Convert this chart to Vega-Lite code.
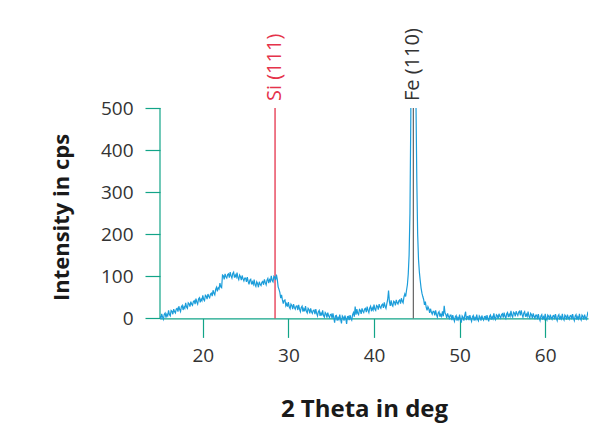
{
  "$schema": "https://vega.github.io/schema/vega-lite/v6.json",
  "width": 428,
  "height": 218,
  "autosize": {"type": "none"},
  "padding": {"left": 160, "top": 108, "right": 23, "bottom": 99},
  "background": "white",
  "config": {
    "view": {"stroke": null},
    "axis": {
      "grid": false,
      "domainColor": "#12a488",
      "tickColor": "#12a488",
      "domainWidth": 1.2,
      "tickWidth": 1.2,
      "labelFont": "Open Sans",
      "labelColor": "#333333",
      "labelFontSize": 19,
      "titleFont": "Open Sans",
      "titleFontWeight": "bold",
      "titleColor": "#1a1a1a"
    }
  },
  "datasets": {
    "spectrum": [
      {"t":15.0,"i":6},{"t":15.1,"i":-2},{"t":15.2,"i":11},{"t":15.3,"i":3},{"t":15.4,"i":-2},{"t":15.5,"i":10},{"t":15.6,"i":13},{"t":15.7,"i":2},{"t":15.8,"i":10},{"t":15.9,"i":6},
      {"t":16.0,"i":19},{"t":16.1,"i":9},{"t":16.2,"i":6},{"t":16.3,"i":19},{"t":16.4,"i":17},{"t":16.5,"i":10},{"t":16.6,"i":22},{"t":16.7,"i":16},{"t":16.8,"i":13},{"t":16.9,"i":22},
      {"t":17.0,"i":24},{"t":17.1,"i":16},{"t":17.2,"i":29},{"t":17.3,"i":21},{"t":17.4,"i":16},{"t":17.5,"i":28},{"t":17.6,"i":31},{"t":17.7,"i":20},{"t":17.8,"i":28},{"t":17.9,"i":24},
      {"t":18.0,"i":37},{"t":18.1,"i":27},{"t":18.2,"i":24},{"t":18.3,"i":37},{"t":18.4,"i":35},{"t":18.5,"i":28},{"t":18.6,"i":40},{"t":18.7,"i":34},{"t":18.8,"i":31},{"t":18.9,"i":40},
      {"t":19.0,"i":42},{"t":19.1,"i":34},{"t":19.2,"i":47},{"t":19.3,"i":39},{"t":19.4,"i":34},{"t":19.5,"i":46},{"t":19.6,"i":49},{"t":19.7,"i":38},{"t":19.8,"i":46},{"t":19.9,"i":42},
      {"t":20.0,"i":55},{"t":20.1,"i":45},{"t":20.2,"i":42},{"t":20.3,"i":55},{"t":20.4,"i":53},{"t":20.5,"i":46},{"t":20.6,"i":58},{"t":20.7,"i":52},{"t":20.8,"i":49},{"t":20.9,"i":58},
      {"t":21.0,"i":60},{"t":21.1,"i":53},{"t":21.2,"i":67},{"t":21.3,"i":60},{"t":21.4,"i":56},{"t":21.5,"i":69},{"t":21.6,"i":74},{"t":21.7,"i":64},{"t":21.8,"i":73},{"t":21.9,"i":70},
      {"t":22.0,"i":84},{"t":22.1,"i":75},{"t":22.2,"i":73},{"t":22.3,"i":103},{"t":22.4,"i":101},{"t":22.5,"i":93},{"t":22.6,"i":106},{"t":22.7,"i":99},{"t":22.8,"i":96},{"t":22.9,"i":104},
      {"t":23.0,"i":106},{"t":23.1,"i":97},{"t":23.2,"i":110},{"t":23.3,"i":101},{"t":23.4,"i":96},{"t":23.5,"i":107},{"t":23.6,"i":110},{"t":23.7,"i":97},{"t":23.8,"i":103},{"t":23.9,"i":98},
      {"t":24.0,"i":109},{"t":24.1,"i":97},{"t":24.2,"i":92},{"t":24.3,"i":103},{"t":24.4,"i":99},{"t":24.5,"i":91},{"t":24.6,"i":102},{"t":24.7,"i":94},{"t":24.8,"i":89},{"t":24.9,"i":96},
      {"t":25.0,"i":96},{"t":25.1,"i":87},{"t":25.2,"i":98},{"t":25.3,"i":88},{"t":25.4,"i":81},{"t":25.5,"i":91},{"t":25.6,"i":93},{"t":25.7,"i":81},{"t":25.8,"i":87},{"t":25.9,"i":81},
      {"t":26.0,"i":92},{"t":26.1,"i":80},{"t":26.2,"i":76},{"t":26.3,"i":87},{"t":26.4,"i":83},{"t":26.5,"i":74},{"t":26.6,"i":87},{"t":26.7,"i":81},{"t":26.8,"i":78},{"t":26.9,"i":86},
      {"t":27.0,"i":88},{"t":27.1,"i":80},{"t":27.2,"i":93},{"t":27.3,"i":85},{"t":27.4,"i":80},{"t":27.5,"i":91},{"t":27.6,"i":95},{"t":27.7,"i":84},{"t":27.8,"i":92},{"t":27.9,"i":88},
      {"t":28.0,"i":101},{"t":28.1,"i":90},{"t":28.2,"i":87},{"t":28.3,"i":100},{"t":28.4,"i":98},{"t":28.5,"i":91},{"t":28.6,"i":104},{"t":28.7,"i":93},{"t":28.8,"i":75},{"t":28.9,"i":69},
      {"t":29.0,"i":62},{"t":29.1,"i":48},{"t":29.2,"i":56},{"t":29.3,"i":44},{"t":29.4,"i":35},{"t":29.5,"i":43},{"t":29.6,"i":44},{"t":29.7,"i":30},{"t":29.8,"i":35},{"t":29.9,"i":28},
      {"t":30.0,"i":39},{"t":30.1,"i":27},{"t":30.2,"i":23},{"t":30.3,"i":34},{"t":30.4,"i":31},{"t":30.5,"i":22},{"t":30.6,"i":34},{"t":30.7,"i":26},{"t":30.8,"i":22},{"t":30.9,"i":29},
      {"t":31.0,"i":30},{"t":31.1,"i":20},{"t":31.2,"i":32},{"t":31.3,"i":22},{"t":31.4,"i":16},{"t":31.5,"i":26},{"t":31.6,"i":29},{"t":31.7,"i":16},{"t":31.8,"i":23},{"t":31.9,"i":17},
      {"t":32.0,"i":29},{"t":32.1,"i":17},{"t":32.2,"i":13},{"t":32.3,"i":24},{"t":32.4,"i":21},{"t":32.5,"i":12},{"t":32.6,"i":24},{"t":32.7,"i":16},{"t":32.8,"i":12},{"t":32.9,"i":19},
      {"t":33.0,"i":20},{"t":33.1,"i":10},{"t":33.2,"i":22},{"t":33.3,"i":12},{"t":33.4,"i":6},{"t":33.5,"i":16},{"t":33.6,"i":19},{"t":33.7,"i":6},{"t":33.8,"i":13},{"t":33.9,"i":7},
      {"t":34.0,"i":19},{"t":34.1,"i":7},{"t":34.2,"i":3},{"t":34.3,"i":14},{"t":34.4,"i":11},{"t":34.5,"i":2},{"t":34.6,"i":14},{"t":34.7,"i":6},{"t":34.8,"i":2},{"t":34.9,"i":9},
      {"t":35.0,"i":10},{"t":35.1,"i":0},{"t":35.2,"i":12},{"t":35.3,"i":2},{"t":35.4,"i":-10},{"t":35.5,"i":6},{"t":35.6,"i":7},{"t":35.7,"i":-5},{"t":35.8,"i":2},{"t":35.9,"i":-3},
      {"t":36.0,"i":9},{"t":36.1,"i":-2},{"t":36.2,"i":-12},{"t":36.3,"i":6},{"t":36.4,"i":3},{"t":36.5,"i":-5},{"t":36.6,"i":7},{"t":36.7,"i":0},{"t":36.8,"i":-13},{"t":36.9,"i":4},
      {"t":37.0,"i":5},{"t":37.1,"i":-4},{"t":37.2,"i":8},{"t":37.3,"i":0},{"t":37.4,"i":-4},{"t":37.5,"i":9},{"t":37.6,"i":14},{"t":37.7,"i":4},{"t":37.8,"i":28},{"t":37.9,"i":9},
      {"t":38.0,"i":22},{"t":38.1,"i":12},{"t":38.2,"i":9},{"t":38.3,"i":21},{"t":38.4,"i":19},{"t":38.5,"i":11},{"t":38.6,"i":24},{"t":38.7,"i":17},{"t":38.8,"i":14},{"t":38.9,"i":22},
      {"t":39.0,"i":24},{"t":39.1,"i":15},{"t":39.2,"i":28},{"t":39.3,"i":19},{"t":39.4,"i":14},{"t":39.5,"i":25},{"t":39.6,"i":29},{"t":39.7,"i":17},{"t":39.8,"i":25},{"t":39.9,"i":20},
      {"t":40.0,"i":33},{"t":40.1,"i":22},{"t":40.2,"i":19},{"t":40.3,"i":31},{"t":40.4,"i":29},{"t":40.5,"i":21},{"t":40.6,"i":34},{"t":40.7,"i":27},{"t":40.8,"i":24},{"t":40.9,"i":32},
      {"t":41.0,"i":34},{"t":41.1,"i":25},{"t":41.2,"i":38},{"t":41.3,"i":29},{"t":41.4,"i":24},{"t":41.5,"i":35},{"t":41.6,"i":45},{"t":41.7,"i":66},{"t":41.8,"i":40},{"t":41.9,"i":30},
      {"t":42.0,"i":43},{"t":42.1,"i":32},{"t":42.2,"i":29},{"t":42.3,"i":41},{"t":42.4,"i":39},{"t":42.5,"i":31},{"t":42.6,"i":44},{"t":42.7,"i":37},{"t":42.8,"i":34},{"t":42.9,"i":42},
      {"t":43.0,"i":44},{"t":43.1,"i":35},{"t":43.2,"i":48},{"t":43.3,"i":41},{"t":43.4,"i":37},{"t":43.5,"i":51},{"t":43.6,"i":58},{"t":43.7,"i":52},{"t":43.8,"i":67},{"t":43.9,"i":80},
      {"t":44.0,"i":105},{"t":44.1,"i":150},{"t":44.2,"i":250},{"t":44.3,"i":480},{"t":44.4,"i":1000},{"t":44.5,"i":1600},{"t":44.6,"i":1800},{"t":44.7,"i":1400},{"t":44.8,"i":900},{"t":44.9,"i":520},
      {"t":45.0,"i":330},{"t":45.1,"i":200},{"t":45.2,"i":140},{"t":45.3,"i":110},{"t":45.4,"i":90},{"t":45.5,"i":72},{"t":45.6,"i":60},{"t":45.7,"i":52},{"t":45.8,"i":45},{"t":45.9,"i":32},
      {"t":46.0,"i":40},{"t":46.1,"i":26},{"t":46.2,"i":19},{"t":46.3,"i":28},{"t":46.4,"i":23},{"t":46.5,"i":13},{"t":46.6,"i":23},{"t":46.7,"i":15},{"t":46.8,"i":10},{"t":46.9,"i":17},
      {"t":47.0,"i":17},{"t":47.1,"i":7},{"t":47.2,"i":19},{"t":47.3,"i":9},{"t":47.4,"i":3},{"t":47.5,"i":13},{"t":47.6,"i":16},{"t":47.7,"i":4},{"t":47.8,"i":10},{"t":47.9,"i":5},
      {"t":48.0,"i":17},{"t":48.1,"i":5},{"t":48.2,"i":30},{"t":48.3,"i":13},{"t":48.4,"i":9},{"t":48.5,"i":1},{"t":48.6,"i":12},{"t":48.7,"i":5},{"t":48.8,"i":0},{"t":48.9,"i":8},
      {"t":49.0,"i":8},{"t":49.1,"i":-4},{"t":49.2,"i":8},{"t":49.3,"i":-1},{"t":49.4,"i":-7},{"t":49.5,"i":4},{"t":49.6,"i":7},{"t":49.7,"i":-5},{"t":49.8,"i":2},{"t":49.9,"i":-3},
      {"t":50.0,"i":9},{"t":50.1,"i":-2},{"t":50.2,"i":-10},{"t":50.3,"i":6},{"t":50.4,"i":3},{"t":50.5,"i":-5},{"t":50.6,"i":7},{"t":50.7,"i":16},{"t":50.8,"i":-4},{"t":50.9,"i":4},
      {"t":51.0,"i":5},{"t":51.1,"i":-4},{"t":51.2,"i":8},{"t":51.3,"i":-1},{"t":51.4,"i":-7},{"t":51.5,"i":4},{"t":51.6,"i":7},{"t":51.7,"i":-5},{"t":51.8,"i":2},{"t":51.9,"i":-3},
      {"t":52.0,"i":9},{"t":52.1,"i":-2},{"t":52.2,"i":-6},{"t":52.3,"i":6},{"t":52.4,"i":3},{"t":52.5,"i":-5},{"t":52.6,"i":7},{"t":52.7,"i":0},{"t":52.8,"i":-4},{"t":52.9,"i":4},
      {"t":53.0,"i":5},{"t":53.1,"i":-4},{"t":53.2,"i":8},{"t":53.3,"i":-1},{"t":53.4,"i":-7},{"t":53.5,"i":5},{"t":53.6,"i":8},{"t":53.7,"i":-3},{"t":53.8,"i":4},{"t":53.9,"i":-1},
      {"t":54.0,"i":12},{"t":54.1,"i":1},{"t":54.2,"i":-3},{"t":54.3,"i":9},{"t":54.4,"i":7},{"t":54.5,"i":-1},{"t":54.6,"i":11},{"t":54.7,"i":5},{"t":54.8,"i":1},{"t":54.9,"i":9},
      {"t":55.0,"i":11},{"t":55.1,"i":2},{"t":55.2,"i":14},{"t":55.3,"i":5},{"t":55.4,"i":0},{"t":55.5,"i":11},{"t":55.6,"i":14},{"t":55.7,"i":3},{"t":55.8,"i":10},{"t":55.9,"i":5},
      {"t":56.0,"i":18},{"t":56.1,"i":7},{"t":56.2,"i":3},{"t":56.3,"i":15},{"t":56.4,"i":13},{"t":56.5,"i":5},{"t":56.6,"i":17},{"t":56.7,"i":11},{"t":56.8,"i":7},{"t":56.9,"i":15},
      {"t":57.0,"i":17},{"t":57.1,"i":7},{"t":57.2,"i":19},{"t":57.3,"i":9},{"t":57.4,"i":3},{"t":57.5,"i":13},{"t":57.6,"i":16},{"t":57.7,"i":4},{"t":57.8,"i":10},{"t":57.9,"i":5},
      {"t":58.0,"i":16},{"t":58.1,"i":5},{"t":58.2,"i":1},{"t":58.3,"i":12},{"t":58.4,"i":9},{"t":58.5,"i":0},{"t":58.6,"i":12},{"t":58.7,"i":5},{"t":58.8,"i":0},{"t":58.9,"i":8},
      {"t":59.0,"i":8},{"t":59.1,"i":-2},{"t":59.2,"i":10},{"t":59.3,"i":1},{"t":59.4,"i":-5},{"t":59.5,"i":6},{"t":59.6,"i":9},{"t":59.7,"i":-3},{"t":59.8,"i":4},{"t":59.9,"i":-1},
      {"t":60.0,"i":11},{"t":60.1,"i":0},{"t":60.2,"i":-4},{"t":60.3,"i":8},{"t":60.4,"i":5},{"t":60.5,"i":-3},{"t":60.6,"i":9},{"t":60.7,"i":2},{"t":60.8,"i":-2},{"t":60.9,"i":6},
      {"t":61.0,"i":7},{"t":61.1,"i":-2},{"t":61.2,"i":10},{"t":61.3,"i":1},{"t":61.4,"i":-5},{"t":61.5,"i":6},{"t":61.6,"i":9},{"t":61.7,"i":-3},{"t":61.8,"i":4},{"t":61.9,"i":-1},
      {"t":62.0,"i":11},{"t":62.1,"i":0},{"t":62.2,"i":-4},{"t":62.3,"i":8},{"t":62.4,"i":5},{"t":62.5,"i":-3},{"t":62.6,"i":9},{"t":62.7,"i":2},{"t":62.8,"i":-2},{"t":62.9,"i":6},
      {"t":63.0,"i":7},{"t":63.1,"i":-2},{"t":63.2,"i":10},{"t":63.3,"i":1},{"t":63.4,"i":-5},{"t":63.5,"i":6},{"t":63.6,"i":9},{"t":63.7,"i":-3},{"t":63.8,"i":4},{"t":63.9,"i":-1},
      {"t":64.0,"i":11},{"t":64.1,"i":0},{"t":64.2,"i":-4},{"t":64.3,"i":8},{"t":64.4,"i":5},{"t":64.5,"i":-3},{"t":64.6,"i":9},{"t":64.7,"i":2},{"t":64.8,"i":-2},{"t":64.9,"i":6},
      {"t":65.0,"i":16}
    ],
    "peaks": [
      {"name": "Si (111)", "pos": 28.44},
      {"name": "Fe (110)", "pos": 44.6}
    ]
  },
  "layer": [
    {
      "data": {"values": [{}]},
      "mark": {"type": "rule", "color": "#12a488", "strokeWidth": 1.2},
      "encoding": {
        "x": {"datum": 15, "type": "quantitative"},
        "y": {"datum": 0, "type": "quantitative"},
        "y2": {"datum": 500}
      }
    },
    {
      "data": {"name": "peaks"},
      "mark": {"type": "rule", "strokeWidth": 1.3},
      "encoding": {
        "x": {"field": "pos", "type": "quantitative"},
        "y": {"datum": 0, "type": "quantitative"},
        "y2": {"datum": 500},
        "color": {"field": "name", "type": "nominal", "scale": {"domain": ["Si (111)", "Fe (110)"], "range": ["#e5334b", "#6b6b6b"]}, "legend": null}
      }
    },
    {
      "data": {"name": "spectrum"},
      "mark": {"type": "line", "color": "#1b9dda", "strokeWidth": 1.2, "clip": true},
      "encoding": {
        "x": {
          "field": "t", "type": "quantitative",
          "scale": {"domain": [15, 65], "nice": false, "zero": false},
          "axis": {
            "values": [20, 30, 40, 50, 60],
            "title": "2 Theta in deg",
            "titleFontSize": 24,
            "titleX": 204,
            "tickSize": 19,
            "labelPadding": 9,
            "titlePadding": 32,
            "offset": -7.6
          }
        },
        "y": {
          "field": "i", "type": "quantitative",
          "scale": {"domain": [-18, 500], "nice": false, "zero": false},
          "axis": {
            "values": [0, 100, 200, 300, 400, 500],
            "title": "Intensity in cps",
            "titleFontSize": 22,
            "domain": false,
            "tickSize": 15,
            "labelPadding": 12,
            "titlePadding": 27
          }
        }
      }
    },
    {
      "data": {"name": "peaks"},
      "mark": {"type": "text", "angle": 270, "align": "left", "baseline": "middle", "dx": 7, "font": "Open Sans", "fontSize": 20},
      "encoding": {
        "x": {"field": "pos", "type": "quantitative"},
        "y": {"datum": 500, "type": "quantitative"},
        "text": {"field": "name"},
        "color": {"field": "name", "type": "nominal", "scale": {"domain": ["Si (111)", "Fe (110)"], "range": ["#e5334b", "#333333"]}, "legend": null}
      }
    }
  ],
  "resolve": {"scale": {"color": "independent"}}
}
